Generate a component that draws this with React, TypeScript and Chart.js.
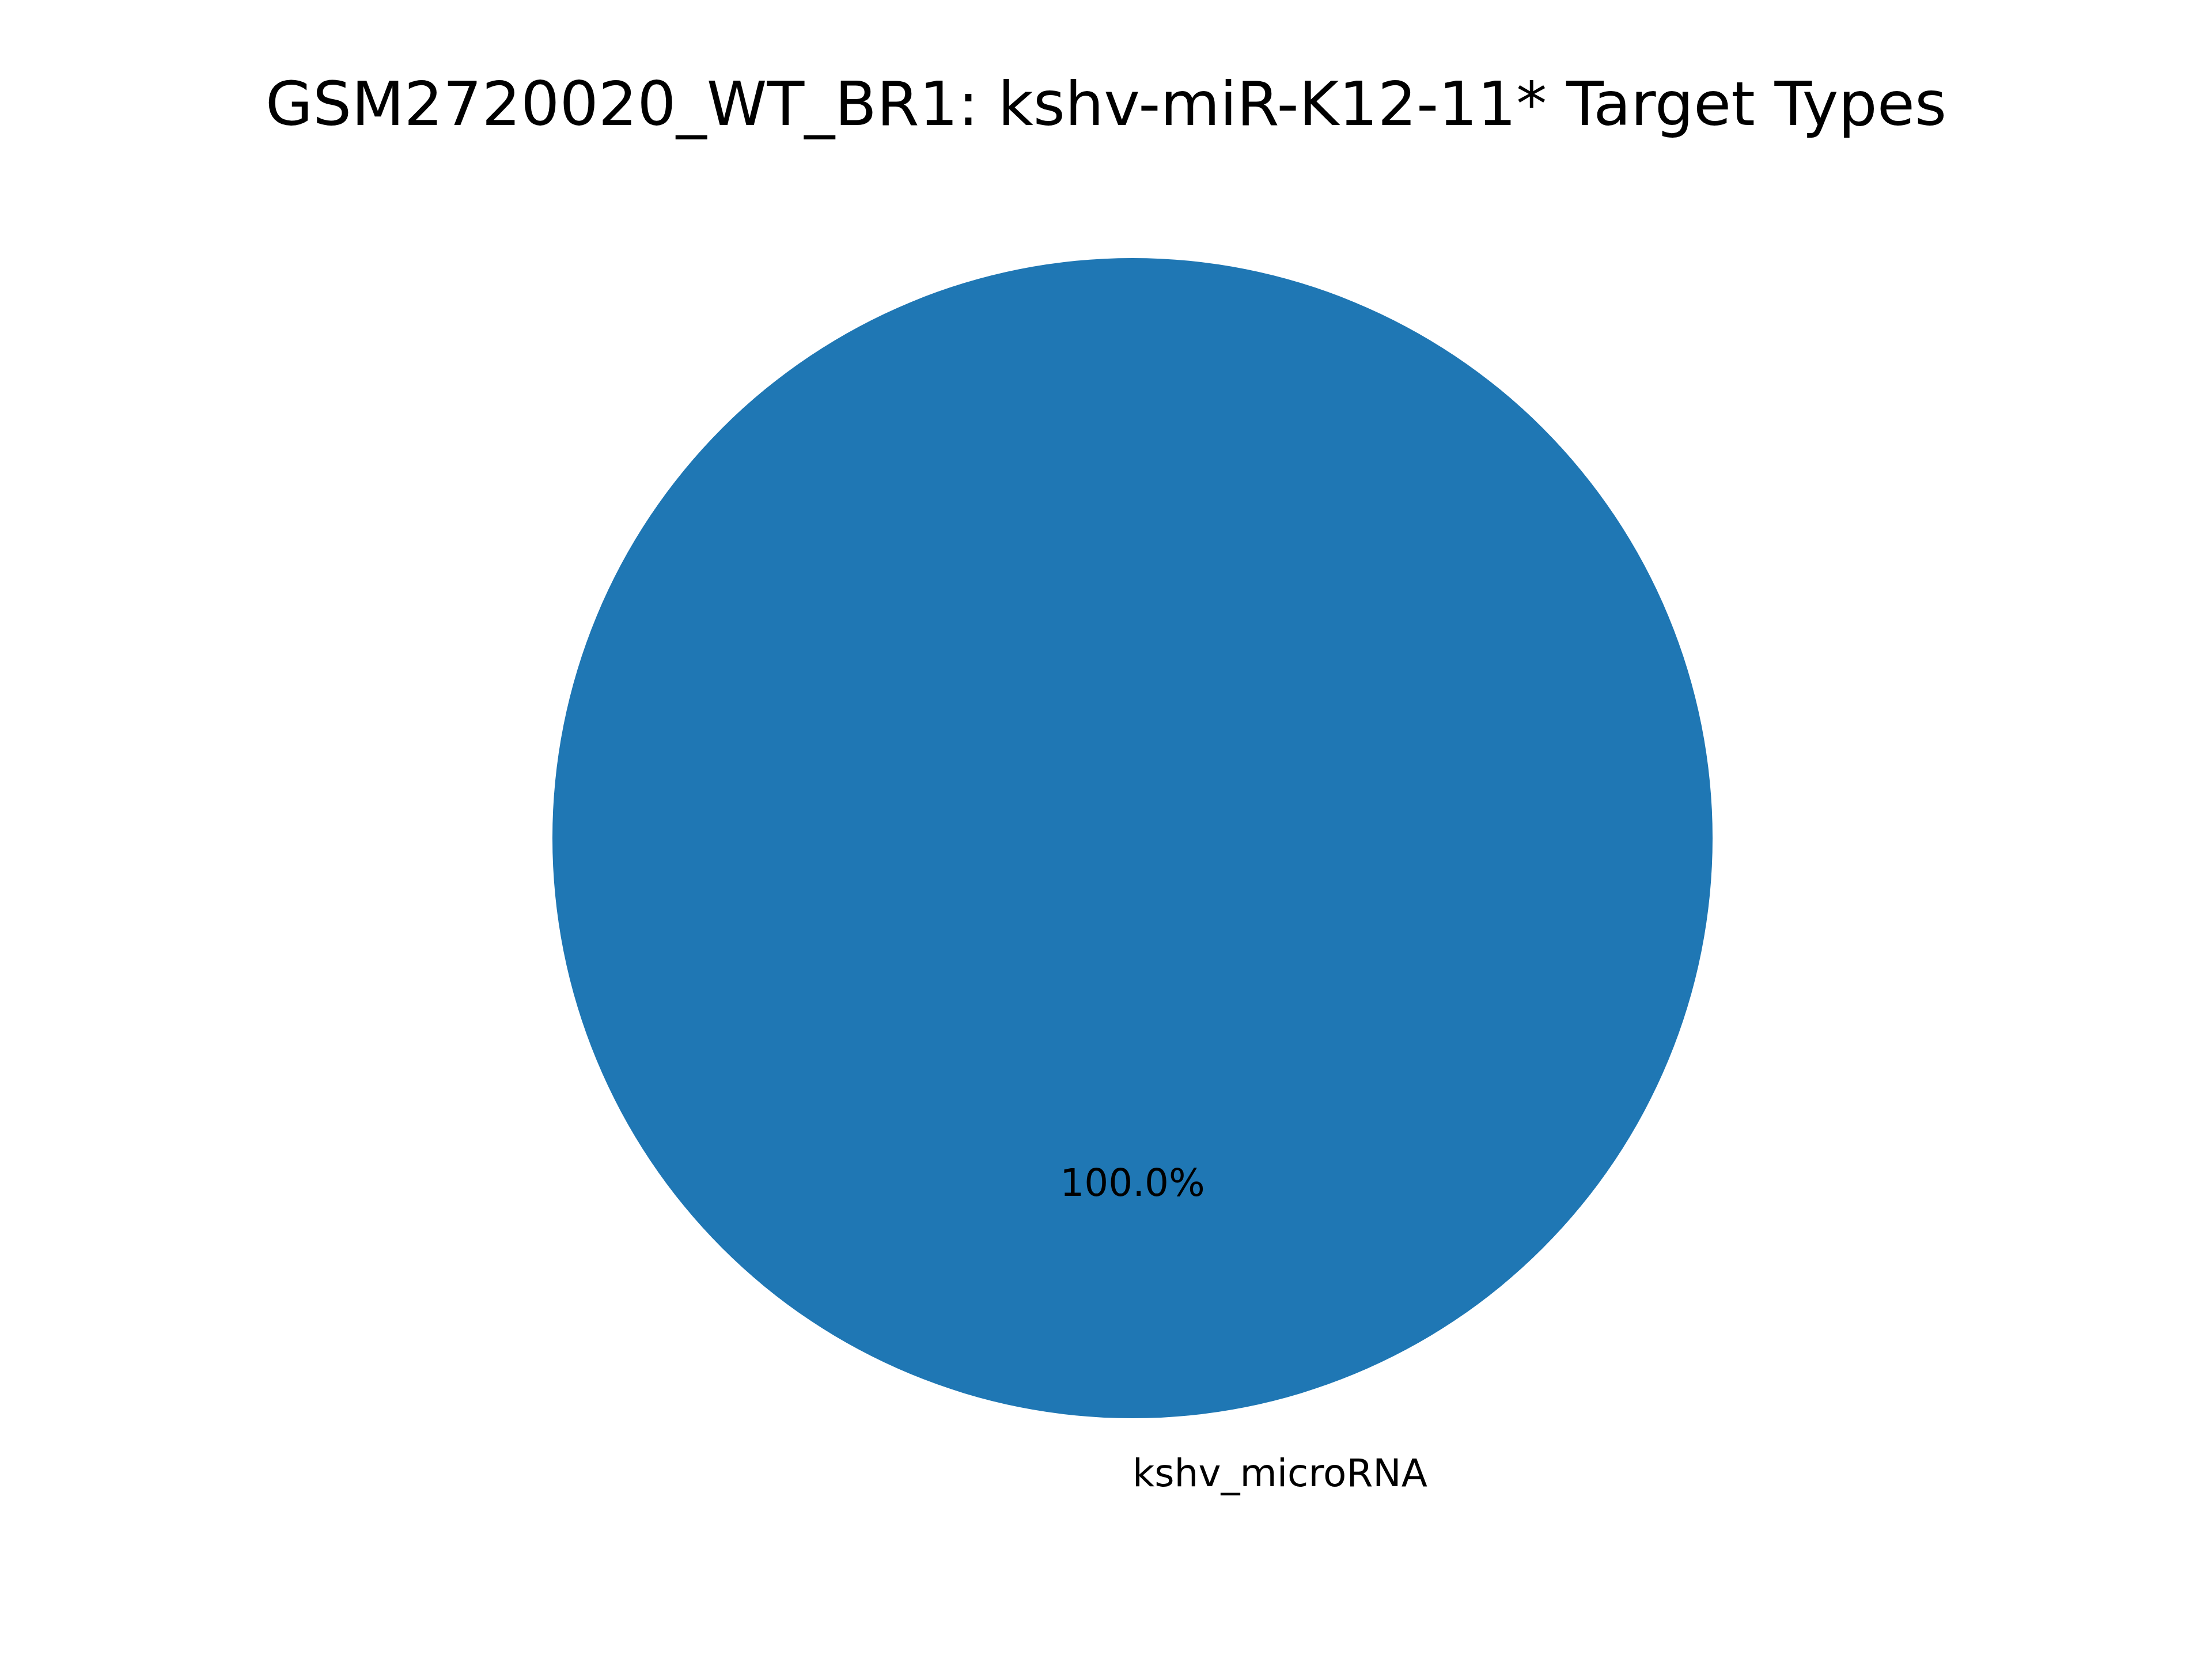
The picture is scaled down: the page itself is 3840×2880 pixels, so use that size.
import React, { useEffect, useRef } from "react";
import { Chart, registerables } from "chart.js";
Chart.register(...registerables);

const title = "GSM2720020_WT_BR1: kshv-miR-K12-11* Target Types";
const categories = ["kshv_microRNA"];
const values = [1];
const colors = ["#1f77b4"];

export default function App() {
  const ref = useRef<HTMLCanvasElement>(null);
  useEffect(() => {
    document.body.style.margin = "0";
    const total = values.reduce((a, b) => a + b, 0);
    const textPlugin = {
      id: "mplText",
      afterDraw(chart: any) {
        const ctx = chart.ctx;
        ctx.save();
        ctx.fillStyle = "#000";
        ctx.textBaseline = "middle";
        ctx.textAlign = "center";
        ctx.font = "106px 'DejaVu Sans'";
        ctx.fillText(title, 1920, 189);
        const meta = chart.getDatasetMeta(0);
        meta.data.forEach((arc: any, i: number) => {
          const mid = (arc.startAngle + arc.endAngle) / 2;
          const r = arc.outerRadius;
          ctx.font = "66px 'DejaVu Sans'";
          ctx.textAlign = "center";
          const pct = ((values[i] / total) * 100).toFixed(1) + "%";
          ctx.fillText(pct, arc.x + Math.cos(mid) * r * 0.6, arc.y + Math.sin(mid) * r * 0.6);
          const lx = arc.x + Math.cos(mid) * r * 1.1;
          ctx.textAlign = Math.cos(mid) >= -1e-9 ? "left" : "right";
          ctx.fillText(categories[i], lx, arc.y + Math.sin(mid) * r * 1.1);
        });
        ctx.restore();
      },
    };
    const chart = new Chart(ref.current!, {
      type: "pie",
      data: {
        labels: categories,
        datasets: [{ data: values, backgroundColor: colors, borderWidth: 0 }],
      },
      options: {
        animation: false,
        responsive: false,
        rotation: 0,
        layout: { padding: { top: 448, bottom: 418, left: 959, right: 867 } },
        plugins: { legend: { display: false }, tooltip: { enabled: false }, title: { display: false } },
      },
      plugins: [textPlugin],
    });
    return () => chart.destroy();
  }, []);
  return <canvas ref={ref} width={3840} height={2880} style={{ display: "block", width: 3840, height: 2880 }} />;
}
